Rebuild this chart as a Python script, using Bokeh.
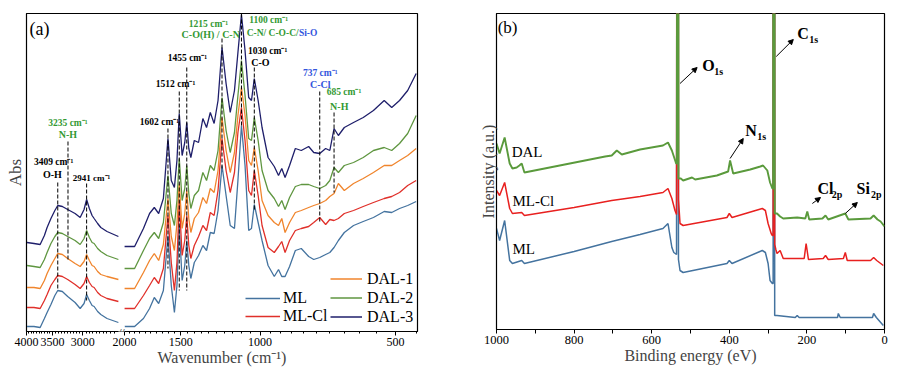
import numpy as np
from bokeh.plotting import figure
from bokeh.models import (Range1d, FixedTicker, CustomJSTickFormatter, Legend, LegendItem,
                          Label, Arrow, NormalHead)
from bokeh.layouts import row
from bokeh.embed import file_html
from bokeh.resources import INLINE

FONT = "'Liberation Serif'"

# ---------------- (a) FTIR ----------------
# high-wavenumber window (cm-1), drawn left of the axis break
wn_high = [3990, 3850, 3730, 3650, 3600, 3530, 3460, 3409, 3330, 3240, 3120, 3040, 2980,
           2941, 2900, 2860, 2830, 2780, 2735, 2650, 2500]
ml_high = [5, 5, 4, 13, 19, 27, 36, 41, 40, 35, 29, 23, 28, 37, 31, 26, 25, 20, 17, 13, 9]
mlcl_high = [24, 24, 23, 31, 37, 46, 52, 56, 55, 52, 47, 43, 48, 55, 49, 45, 44, 39, 36, 33, 30]
dal1_high = [44, 44, 43, 51, 58, 66, 73, 78, 77, 73, 68, 65, 70, 77, 71, 66, 65, 60, 57, 55, 52]
dal2_high = [66, 65, 64, 72, 79, 88, 95, 99, 98, 95, 91, 87, 93, 101, 94, 89, 88, 83, 80, 76, 72]
dal3_high = [89, 88, 87, 96, 104, 113, 121, 126, 125, 122, 118, 114, 122, 132, 123, 116, 113,
             108, 104, 100, 95]

# fingerprint window (cm-1), right of the break
wn_low = [2000, 1900, 1816, 1760, 1718, 1680, 1640, 1602, 1575, 1550, 1530, 1512, 1490, 1470,
          1455, 1440, 1425, 1400, 1370, 1340, 1315, 1290, 1265, 1240, 1215, 1190, 1165, 1140,
          1120, 1100, 1080, 1060, 1045, 1030, 1010, 990, 960, 930, 910, 895, 880, 860, 835, 810,
          780, 760, 737, 715, 700, 685, 670, 650, 620, 590, 560, 530, 510, 490, 470, 450]
ml_low = [5, 5, 13, 23, 34, 28, 41, 96, 46, 19, 46, 106, 51, 66, 91, 66, 53, 69, 76, 86, 81, 99,
          98, 121, 166, 136, 106, 103, 151, 206, 166, 101, 103, 127, 109, 91, 66, 55, 62, 55, 55,
          65, 81, 83, 75, 72, 74, 77, 79, 84, 91, 99, 106, 110, 114, 120, 119, 123, 126, 130]
mlcl_low = [23, 23, 36, 46, 54, 48, 63, 116, 69, 41, 69, 131, 76, 91, 116, 86, 73, 86, 95, 106,
            101, 119, 116, 141, 193, 161, 139, 159, 199, 224, 191, 141, 136, 161, 136, 106, 84,
            79, 85, 90, 79, 91, 101, 103, 105, 109, 114, 107, 112, 111, 113, 118, 121, 125, 129,
            133, 135, 139, 146, 151]
dal1_low = [43, 43, 59, 71, 78, 71, 87, 133, 95, 81, 108, 148, 103, 118, 141, 113, 99, 113, 119,
            134, 128, 143, 139, 161, 214, 181, 159, 179, 216, 244, 216, 171, 166, 184, 161, 131,
            116, 109, 106, 113, 99, 109, 119, 121, 124, 126, 128, 131, 135, 138, 148, 141, 148,
            153, 159, 166, 166, 171, 176, 183]
dal2_low = [63, 63, 81, 93, 99, 93, 109, 156, 118, 106, 131, 173, 131, 143, 166, 138, 123, 136,
            141, 159, 151, 166, 161, 181, 234, 201, 179, 199, 236, 271, 236, 193, 191, 214, 191,
            161, 141, 133, 125, 131, 122, 134, 145, 147, 147, 145, 143, 146, 151, 164, 159, 166,
            169, 174, 181, 184, 181, 188, 198, 216]
dal3_low = [85, 85, 103, 118, 124, 118, 133, 193, 151, 144, 171, 218, 176, 189, 209, 183, 174,
            191, 189, 213, 204, 219, 208, 231, 284, 248, 219, 241, 279, 317, 281, 234, 231, 253,
            231, 204, 174, 165, 156, 163, 154, 166, 183, 181, 185, 179, 178, 183, 181, 203, 196,
            204, 209, 214, 221, 231, 224, 231, 241, 258]

series_names = ["ML", "ML-Cl", "DAL-1", "DAL-2", "DAL-3"]
series_colors = ["#44739f", "#e0302a", "#f0852d", "#5f9640", "#1f1f6b"]

# marked bands: wavenumber, top and bottom of dashed marker (absorbance units)
band_high = [3409, 3235, 2941]
band_high_top = [149, 190, 148]
band_high_bot = [41, 71, 31]
band_low = [1602, 1512, 1455, 1215, 1100, 1030, 737, 685]
band_low_top = [203, 240, 264, 293, 318, 264, 240, 219]
band_low_bot = [63, 41, 41, 161, 206, 121, 108, 139]

ticks_high = [4000, 3500, 3000]
ticks_low = [2000, 1500, 1000, 500]

# ---------------- (b) XPS ----------------
be_ml = [1000, 992, 979, 966, 959, 935, 928, 800, 703, 630, 571, 558, 548, 543, 536, 534, 532,
         531, 527, 519, 406, 400, 393, 315, 307, 300, 295, 289, 287, 286, 284, 283, 277, 230,
         225, 220, 121, 119, 114, 31, 28, 21, 3]
int_ml = [101, 89, 109, 69, 66, 69, 66, 78, 88, 95, 101, 106, 82, 77, 75, 1000, 1000, 70, 59,
          57, 66, 69, 66, 79, 77, 66, 49, 46, 46, 1000, 1000, 14, 14, 12, 14, 12, 12, 16, 12,
          12, 16, 12, 4]
be_mlcl = [1000, 992, 979, 966, 959, 935, 928, 800, 703, 630, 571, 558, 548, 540, 536, 534, 532,
           531, 527, 519, 406, 400, 393, 315, 307, 300, 292, 289, 287, 286, 284, 283, 280, 277,
           269, 261, 225, 207, 202, 196, 158, 152, 145, 106, 101, 96, 36, 28, 20, 3]
int_mlcl = [139, 134, 147, 121, 116, 117, 114, 122, 129, 133, 137, 141, 131, 119, 115, 1000,
            1000, 130, 106, 104, 112, 116, 112, 121, 119, 106, 96, 94, 94, 1000, 1000, 85, 80,
            76, 79, 71, 71, 71, 86, 70, 71, 74, 70, 71, 77, 69, 69, 72, 69, 64]
be_dal = [1000, 992, 979, 966, 959, 948, 941, 935, 928, 720, 703, 690, 677, 630, 571, 558, 548,
          537, 535, 534, 532, 531, 525, 519, 496, 488, 432, 403, 398, 390, 346, 320, 313, 302,
          295, 289, 287, 286, 284, 283, 277, 269, 261, 225, 204, 199, 194, 160, 152, 145, 101,
          93, 36, 28, 18, 10, 0]
int_dal = [186, 176, 192, 166, 161, 162, 164, 166, 157, 173, 174, 179, 175, 180, 184, 187, 179,
           166, 166, 1000, 1000, 151, 151, 149, 152, 150, 154, 158, 169, 156, 160, 163, 164, 159,
           147, 141, 141, 1000, 1000, 116, 116, 113, 111, 112, 111, 118, 110, 111, 114, 110, 116,
           110, 111, 114, 110, 108, 103]

be_ticks = [1000, 800, 600, 400, 200, 0]
be_minor = [900, 700, 500, 300, 100]

# ============ panel (a) ============
X_LEFT, X_RIGHT = 3303, 447         # log wavenumber window of the fingerprint scale
K = X_LEFT / 4000.0                 # places the 4000-2500 window left of the break

p1 = figure(frame_width=391, frame_height=318, x_axis_type="log",
            x_range=Range1d(X_LEFT, X_RIGHT), y_range=Range1d(0, 318),
            output_backend="svg", toolbar_location=None,
            min_border_left=26, min_border_right=59, min_border_top=13, min_border_bottom=10)
p1.grid.visible = False
p1.outline_line_color = "black"
p1.outline_line_width = 1.2
p1.background_fill_color = "white"

highs = [ml_high, mlcl_high, dal1_high, dal2_high, dal3_high]
lows = [ml_low, mlcl_low, dal1_low, dal2_low, dal3_low]
rends = []
for name, col, yh, yl in zip(series_names, series_colors, highs, lows):
    p1.line(np.array(wn_high) * K, yh, color=col, line_width=1.3)
    r = p1.line(wn_low, yl, color=col, line_width=1.3)
    rends.append(r)

p1.segment(x0=np.array(band_high) * K, y0=band_high_top, x1=np.array(band_high) * K,
           y1=band_high_bot, color="black", line_width=1, line_dash="4 2")
p1.segment(x0=band_low, y0=band_low_top, x1=band_low, y1=band_low_bot,
           color="black", line_width=1, line_dash="4 2")

minor_high = [w * K for w in range(3950, 2500, -50) if w not in ticks_high]
minor_low = [w for w in range(1950, 449, -50) if w not in ticks_low]
p1.xaxis.ticker = FixedTicker(ticks=[t * K for t in ticks_high] + ticks_low,
                              minor_ticks=minor_high + minor_low)
p1.xaxis.formatter = CustomJSTickFormatter(
    code="return (tick > 2100) ? String(Math.round(tick / %f / 500) * 500) : String(Math.round(tick));" % K)
p1.xaxis.major_label_text_font = FONT
p1.xaxis.major_label_text_font_size = "12px"
p1.xaxis.major_label_text_color = "black"
p1.xaxis.major_label_standoff = 2
p1.xaxis.major_tick_out = 4
p1.xaxis.major_tick_in = 0
p1.xaxis.minor_tick_out = 2
p1.xaxis.minor_tick_in = 0
p1.xaxis.axis_label = "Wavenumber (cm\u207b\u00b9)"
p1.xaxis.axis_label_text_font = FONT
p1.xaxis.axis_label_text_font_style = "normal"
p1.xaxis.axis_label_text_font_size = "16px"
p1.xaxis.axis_label_standoff = 0
p1.xaxis.axis_line_color = "black"

p1.yaxis.ticker = FixedTicker(ticks=[])
p1.yaxis.major_label_text_font_size = "0px"
p1.yaxis.major_tick_out = 0
p1.yaxis.minor_tick_out = 0
p1.yaxis.major_label_standoff = 0
p1.yaxis.axis_label = "Abs"
p1.yaxis.axis_label_text_font = FONT
p1.yaxis.axis_label_text_font_style = "normal"
p1.yaxis.axis_label_text_font_size = "17px"
p1.yaxis.axis_label_standoff = 2

# axis break mark
p1.add_layout(Label(x=2032, y=0, text="//", text_font=FONT, text_font_size="11px",
                    text_align="center", text_baseline="middle", text_color="black",
                    background_fill_color="white", level="overlay"))

GREEN_T = "#339933"
BLUE_T = "#3355dd"
ann_a = [
    ("(a)", 3939 * K, 303, "black", "18px", "normal", "left"),
    ("3235 cm\u207b\u00b9", 3236 * K, 209, GREEN_T, "9.5px", "bold", "center"),
    ("N-H", 3236 * K, 197, GREEN_T, "10px", "bold", "center"),
    ("3409 cm\u207b\u00b9", 3483 * K, 170, "black", "9.5px", "bold", "center"),
    ("O-H", 3503 * K, 157, "black", "10px", "bold", "center"),
    ("2941 cm\u207b\u00b9", 2868 * K, 154, "black", "9px", "bold", "center"),
    ("1602 cm\u207b\u00b9", 1673, 210, "black", "9.5px", "bold", "center"),
    ("1512 cm\u207b\u00b9", 1541, 248, "black", "9.5px", "bold", "center"),
    ("1455 cm\u207b\u00b9", 1450, 274, "black", "9.5px", "bold", "center"),
    ("1215 cm\u207b\u00b9", 1302, 308, GREEN_T, "9.5px", "bold", "center"),
    ("C-O(H) / C-N", 1287, 297, GREEN_T, "10px", "bold", "center"),
    ("1100 cm\u207b\u00b9", 957, 312, GREEN_T, "9.5px", "bold", "center"),
    ("C-N/ C-O-C/", 1071, 299, GREEN_T, "9.5px", "bold", "left"),
    ("Si-O", 820, 299, BLUE_T, "9.5px", "bold", "left"),
    ("1030 cm\u207b\u00b9", 962, 281, "black", "9.5px", "bold", "center"),
    ("C-O", 998, 269, "black", "10px", "bold", "center"),
    ("737 cm\u207b\u00b9", 735, 259, BLUE_T, "9.5px", "bold", "center"),
    ("C-Cl", 735, 247, BLUE_T, "10px", "bold", "center"),
    ("685 cm\u207b\u00b9", 651, 240, GREEN_T, "9.5px", "bold", "center"),
    ("N-H", 667, 225, GREEN_T, "10px", "bold", "center"),
]
for txt, x, y, col, fs, st, al in ann_a:
    p1.add_layout(Label(x=x, y=y, text=txt, text_font=FONT, text_font_size=fs,
                        text_font_style=st, text_color=col, text_align=al,
                        text_baseline="middle"))

leg_common = dict(orientation="vertical", padding=0, margin=0, spacing=0,
                  border_line_alpha=0, background_fill_alpha=0,
                  label_text_font=FONT, label_text_font_size="16px",
                  label_text_color="black")
leg1 = Legend(items=[LegendItem(label="ML", renderers=[rends[0]]),
                     LegendItem(label="ML-Cl", renderers=[rends[1]])],
              location=(219, 6), glyph_width=35, glyph_height=18, label_height=18,
              label_standoff=3, **leg_common)
leg2 = Legend(items=[LegendItem(label="DAL-1", renderers=[rends[2]]),
                     LegendItem(label="DAL-2", renderers=[rends[3]]),
                     LegendItem(label="DAL-3", renderers=[rends[4]])],
              location=(304, 5), glyph_width=32, glyph_height=19, label_height=19,
              label_standoff=5, **leg_common)
p1.add_layout(leg1)
p1.add_layout(leg2)

# ============ panel (b) ============
p2 = figure(frame_width=388, frame_height=316, x_range=Range1d(1000, 0),
            y_range=Range1d(0, 316), output_backend="svg", toolbar_location=None,
            min_border_left=20, min_border_right=10, min_border_top=13, min_border_bottom=10)
p2.grid.visible = False
p2.outline_line_color = "black"
p2.outline_line_width = 1.2

p2.line(be_ml, int_ml, color="#44739f", line_width=1.5)
p2.line(be_mlcl, int_mlcl, color="#e8201f", line_width=1.5)
p2.line(be_dal, int_dal, color="#5a9a3c", line_width=1.9)

p2.xaxis.ticker = FixedTicker(ticks=be_ticks, minor_ticks=be_minor)
p2.xaxis.major_label_text_font = FONT
p2.xaxis.major_label_text_font_size = "12.5px"
p2.xaxis.major_label_text_color = "black"
p2.xaxis.major_label_standoff = 2
p2.xaxis.major_tick_out = 4
p2.xaxis.major_tick_in = 0
p2.xaxis.minor_tick_out = 4
p2.xaxis.minor_tick_in = 0
p2.xaxis.axis_label = "Binding energy (eV)"
p2.xaxis.axis_label_text_font = FONT
p2.xaxis.axis_label_text_font_style = "normal"
p2.xaxis.axis_label_text_font_size = "16px"
p2.xaxis.axis_label_standoff = 0

p2.yaxis.ticker = FixedTicker(ticks=[])
p2.yaxis.major_label_text_font_size = "0px"
p2.yaxis.major_tick_out = 0
p2.yaxis.minor_tick_out = 0
p2.yaxis.major_label_standoff = 0
p2.yaxis.axis_label = "Intensity (a.u.)"
p2.yaxis.axis_label_text_font = FONT
p2.yaxis.axis_label_text_font_style = "normal"
p2.yaxis.axis_label_text_font_size = "16px"
p2.yaxis.axis_label_standoff = 0

ann_b = [
    ("(b)", 997, 302, "17px", "normal", "left"),
    ("DAL", 961, 178, "15px", "normal", "left"),
    ("ML-Cl", 959, 129, "15px", "normal", "left"),
    ("ML", 959, 81, "15px", "normal", "left"),
    ("O", 470, 264, "16px", "bold", "left"),
    ("1s", 439, 258, "10px", "bold", "left"),
    ("C", 225, 296, "16px", "bold", "left"),
    ("1s", 194, 290, "10px", "bold", "left"),
    ("N", 359, 199, "16px", "bold", "left"),
    ("1s", 328, 193, "10px", "bold", "left"),
    ("Cl", 173, 141, "16px", "bold", "left"),
    ("2p", 136, 135, "10px", "bold", "left"),
    ("Si", 72, 141, "16px", "bold", "left"),
    ("2p", 35, 135, "10px", "bold", "left"),
]
for txt, x, y, fs, st, al in ann_b:
    p2.add_layout(Label(x=x, y=y, text=txt, text_font=FONT, text_font_size=fs,
                        text_font_style=st, text_color="black", text_align=al,
                        text_baseline="middle"))

arrows_b = [(527, 246, 483, 262), (279, 273, 235, 290), (398, 171, 364, 191),
            (186, 126, 165, 132), (101, 116, 70, 127)]
for xs, ys, xe, ye in arrows_b:
    p2.add_layout(Arrow(end=NormalHead(size=5, fill_color="black", line_color="black"),
                        x_start=xs, y_start=ys, x_end=xe, y_end=ye,
                        line_color="black", line_width=1))

layout = row(p1, p2)
open("out.html", "w").write(file_html(layout, INLINE))
